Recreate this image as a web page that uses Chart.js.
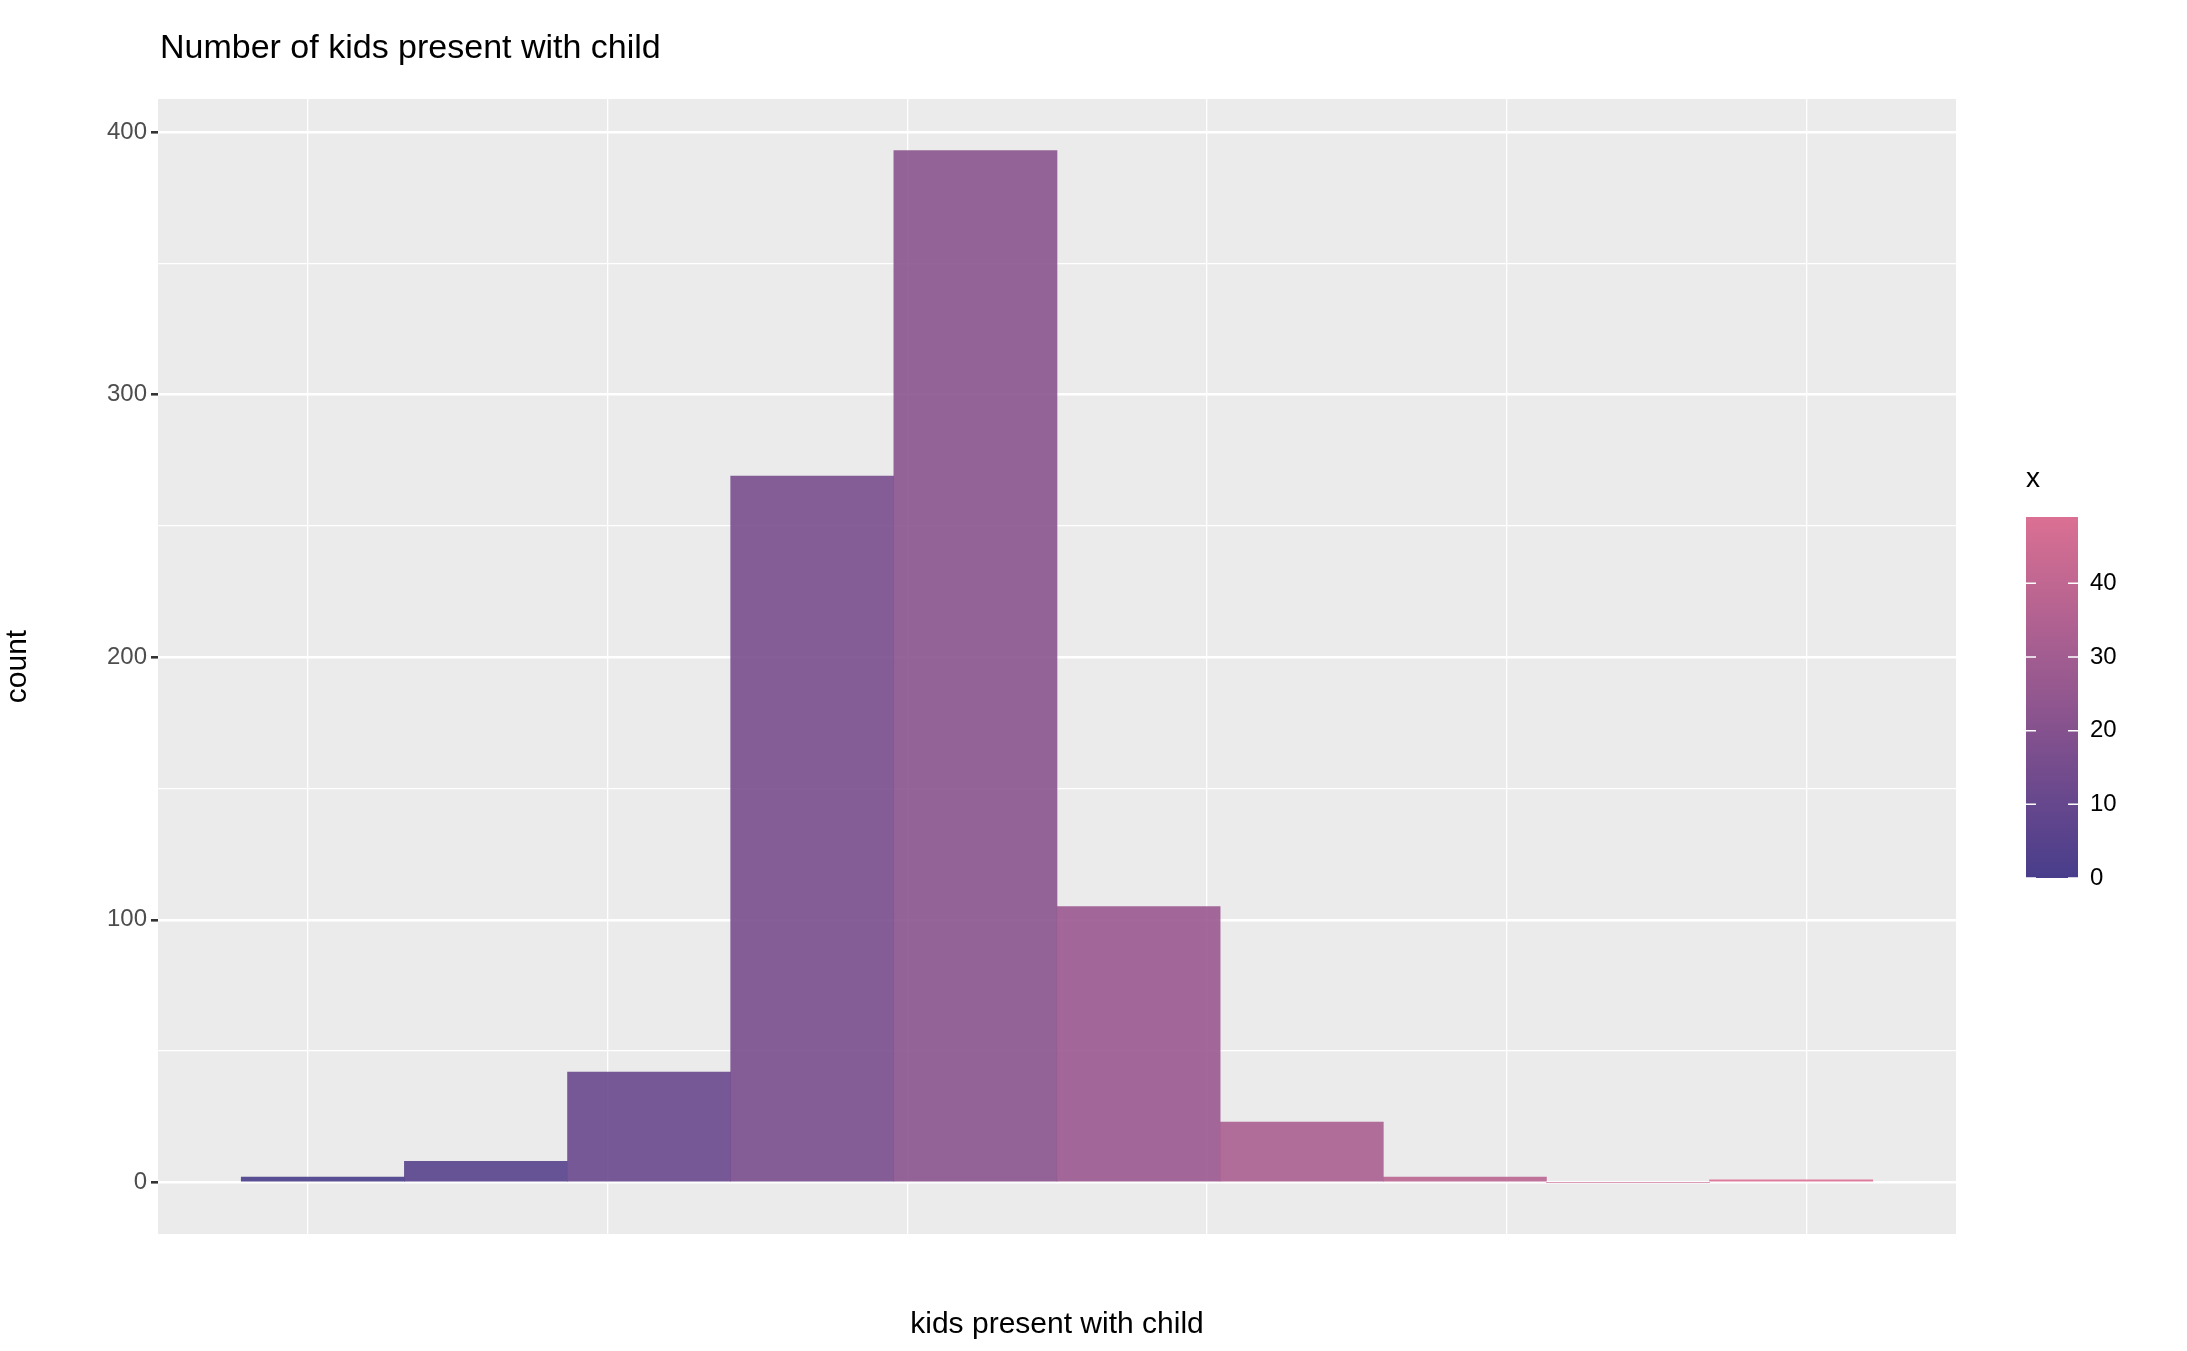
<!DOCTYPE html>
<html><head><meta charset="utf-8">
<script src="https://cdn.jsdelivr.net/npm/chart.js@4"></script>
<style>html,body{margin:0;padding:0;background:#fff}canvas{display:block}</style>
</head><body>
<canvas id="c" width="2187" height="1351" style="width:2187px;height:1351px"></canvas>
<script>
const binCenters = [0, 5.444, 10.889, 16.333, 21.778, 27.222, 32.667, 38.111, 43.556, 49];
const counts = [2, 8, 42, 269, 393, 105, 23, 2, 0, 1];
const legendTicks = [0, 10, 20, 30, 40];
const lo = [72, 61, 139], hi = [219, 112, 147], xMax = 49;
function col(v, a) {
  const t = v / xMax;
  const c = lo.map((l, i) => Math.round(l + (hi[i] - l) * t));
  return `rgba(${c[0]},${c[1]},${c[2]},${a})`;
}
const F = "Liberation Sans, Arial, sans-serif";
const panelBg = {
  id: 'bg',
  beforeDraw(ch) {
    const {ctx, chartArea: a} = ch;
    ctx.save(); ctx.fillStyle = '#EBEBEB';
    ctx.fillRect(a.left, a.top, a.right - a.left, a.bottom - a.top); ctx.restore();
  },
  afterDraw(ch) {
    const ctx = ch.ctx; ctx.save();
    ctx.fillStyle = '#000'; ctx.font = `34px ${F}`; ctx.textBaseline = 'alphabetic';
    ctx.fillText('Number of kids present with child', 160, 58);
    const x0 = 2026, w = 52, yTop = 517, yBot = 878;
    const g = ctx.createLinearGradient(0, yBot, 0, yTop);
    for (let i = 0; i <= 10; i++) g.addColorStop(i / 10, col(xMax * i / 10, 1));
    ctx.fillStyle = g; ctx.fillRect(x0, yTop, w, yBot - yTop);
    ctx.fillStyle = '#000';
    ctx.font = `28px ${F}`; ctx.fillText('x', 2026, 487);
    ctx.font = `24px ${F}`; ctx.textBaseline = 'middle';
    legendTicks.forEach(v => {
      const y = yBot - (v / xMax) * (yBot - yTop);
      ctx.strokeStyle = '#fff'; ctx.lineWidth = 1.5;
      ctx.beginPath(); ctx.moveTo(x0, y); ctx.lineTo(x0 + 10, y);
      ctx.moveTo(x0 + w - 10, y); ctx.lineTo(x0 + w, y); ctx.stroke();
      ctx.fillStyle = '#000'; ctx.fillText(String(v), x0 + w + 12, y);
    });
    ctx.restore();
  }
};
new Chart(document.getElementById('c'), {
  type: 'bar',
  data: { datasets: [{
    data: binCenters.map((x, i) => ({x, y: counts[i]})),
    backgroundColor: binCenters.map(x => col(x, 0.9)),
    barPercentage: 1, categoryPercentage: 1, borderWidth: 0
  }]},
  options: {
    responsive: false, animation: false, devicePixelRatio: 1,
    layout: { padding: { top: 99, right: 231, left: 0, bottom: 0 } },
    plugins: { legend: { display: false }, tooltip: { enabled: false } },
    scales: {
      x: {
        type: 'linear', min: -5.5, max: 54.5, offset: false,
        afterFit(s) { s.height = 117; },
        border: { display: false },
        grid: {
          color: '#fff', lineWidth: c => (c.tick && c.tick.value % 20 === 0) ? 2.6 : 1.3,
          tickColor: c => (c.tick && c.tick.value % 20 === 0) ? '#333' : 'rgba(0,0,0,0)',
          tickLength: 7
        },
        ticks: { stepSize: 10, includeBounds: false, autoSkip: false, maxRotation: 0, color: '#4D4D4D',
          font: { size: 24, family: F }, padding: 4,
          callback: v => (v % 20 === 0) ? String(v) : '' },
        title: { display: true, text: 'kids present with child', color: '#000',
          font: { size: 30, family: F }, padding: { top: 6, bottom: 8 } }
      },
      y: {
        min: -19.65, max: 412.6,
        afterFit(s) { s.width = 158; },
        border: { display: false },
        grid: {
          color: '#fff', lineWidth: c => (c.tick && c.tick.value % 100 === 0) ? 2.6 : 1.3,
          tickColor: c => (c.tick && c.tick.value % 100 === 0) ? '#333' : 'rgba(0,0,0,0)',
          tickLength: 7
        },
        ticks: { stepSize: 50, includeBounds: false, autoSkip: false, color: '#4D4D4D',
          font: { size: 24, family: F }, padding: 4,
          callback: v => (v % 100 === 0) ? String(v) : '' },
        title: { display: true, text: 'count', color: '#000',
          font: { size: 30, family: F }, padding: { top: 0, bottom: 8 } }
      }
    }
  },
  plugins: [panelBg]
});
</script>
</body></html>
